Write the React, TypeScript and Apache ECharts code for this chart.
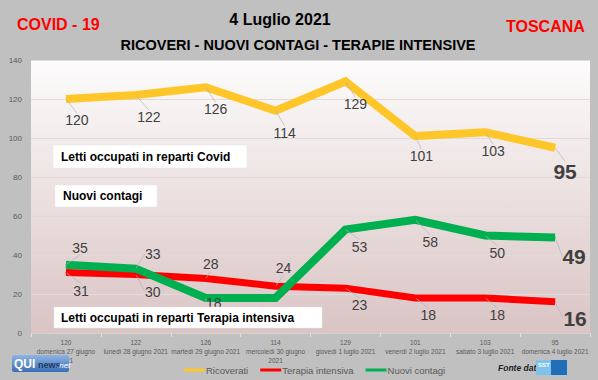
import React, { useEffect, useRef } from "react";
import * as echarts from "echarts";

// ---- data ----
const dayLabels = [
  "domenica 27 giugno\n2021",
  "lunedì 28 giugno 2021",
  "martedì 29 giugno 2021",
  "mercoledì 30 giugno\n2021",
  "giovedì 1 luglio 2021",
  "venerdì 2 luglio 2021",
  "sabato 3 luglio 2021",
  "domenica 4 luglio 2021",
];
const ricoverati = [120, 122, 126, 114, 129, 101, 103, 95];
const terapiaIntensiva = [31, 30, 28, 24, 23, 18, 18, 16];
const nuoviContagi = [35, 33, 18, 18, 53, 58, 50, 49];
const hiddenContagiLabels = [3];
const yMin = 0;
const yMax = 140;
const yStep = 20;

// ---- label placement (styles, not data) ----
const offRic: number[][] = [[11, 21], [13, 22], [10, 22], [9, 22], [10, 23], [6, 20], [8, 19], [10, 24]];
const offTer: number[][] = [[15, 18], [17, 17], [5, -14], [8, -18], [14, 17], [13, 17], [12, 17], [20, 17]];
const offNuo: number[][] = [[14, -17], [17, -15], [8, 5], [0, 0], [14, 17], [15, 22], [12, 17], [19, 19]];

const FONT = "'Liberation Sans', Arial, sans-serif";

export default function App() {
  const ref = useRef<HTMLDivElement>(null);
  useEffect(() => {
    document.body.style.margin = "0";
    if (!ref.current) return;
    const chart = echarts.init(ref.current, null, { renderer: "svg" });
    const last = ricoverati.length - 1;

    const mkData = (vals: number[], hidden: number[] = []) =>
      vals.map((v, i) => {
        if (hidden.includes(i)) return { value: v, label: { show: false } };
        if (i === last)
          return { value: v, label: { fontSize: 21, fontWeight: "bold" } };
        return v;
      });

    const mkSeries = (name: string, vals: number[], color: string, width: number, offs: number[][], hidden: number[] = []) => ({
      type: "line",
      name,
      data: mkData(vals, hidden),
      symbol: "circle",
      symbolSize: 1,
      itemStyle: { color },
      lineStyle: { color, width, join: "miter" },
      label: {
        show: true,
        position: "inside",
        color: "#404040",
        fontSize: 14,
        fontFamily: FONT,
      },
      labelLayout: (p: any) => ({ dx: offs[p.dataIndex][0], dy: offs[p.dataIndex][1] }),
      labelLine: { show: true, lineStyle: { color: "#b3b3b3", width: 0.7 } },
      emphasis: { disabled: true },
    });

    chart.setOption({
      animation: false,
      backgroundColor: "#c0c0c0",
      textStyle: { fontFamily: FONT },
      grid: {
        left: 31,
        right: 8,
        top: 60,
        bottom: 47,
        show: true,
        borderWidth: 0,
        backgroundColor: new echarts.graphic.LinearGradient(0, 0, 0, 1, [
          { offset: 0, color: "#fdfcfc" },
          { offset: 1, color: "#dac4c4" },
        ]),
      },
      legend: {
        left: 179,
        top: 360,
        itemWidth: 21,
        itemHeight: 3,
        itemGap: 12,
        icon: "rect",
        textStyle: { color: "#595959", fontSize: 9.5, fontFamily: FONT, padding: [0, 0, 0, -4] },
        data: ["Ricoverati", "Terapia intensiva", "Nuovi contagi"],
      },
      xAxis: {
        type: "category",
        data: dayLabels.map((d, i) => `${ricoverati[i]}\n${d}`),
        boundaryGap: true,
        axisLine: { show: true, lineStyle: { color: "#d9d0d0" } },
        axisTick: { show: true, length: 4, lineStyle: { color: "#e0e0e0" } },
        axisLabel: {
          interval: 0,
          color: "#595959",
          fontSize: 6.5,
          lineHeight: 9,
          margin: 5,
          fontFamily: FONT,
        },
      },
      yAxis: {
        type: "value",
        min: yMin,
        max: yMax,
        interval: yStep,
        axisLine: { show: false },
        axisTick: { show: false },
        axisLabel: { color: "#595959", fontSize: 8, margin: 9, fontFamily: FONT },
        splitLine: { lineStyle: { color: "#e2dada", width: 1 } },
      },
      series: [
        mkSeries("Ricoverati", ricoverati, "#ffc629", 8, offRic),
        mkSeries("Terapia intensiva", terapiaIntensiva, "#ff0000", 7, offTer),
        mkSeries("Nuovi contagi", nuoviContagi, "#00b050", 8, offNuo, hiddenContagiLabels),
      ],
      graphic: [
        { type: "text", left: 17, top: 16, style: { text: "COVID - 19", fill: "#ff0000", font: `bold 16px ${FONT}` } },
        { type: "text", left: 506, top: 18, style: { text: "TOSCANA", fill: "#ff0000", font: `bold 16px ${FONT}` } },
        { type: "text", x: 280, y: 19, style: { text: "4 Luglio 2021", fill: "#000", font: `bold 16px ${FONT}`, align: "center", verticalAlign: "middle" } },
        { type: "text", x: 298, y: 45, style: { text: "RICOVERI - NUOVI CONTAGI - TERAPIE INTENSIVE", fill: "#000", font: `bold 14.5px ${FONT}`, align: "center", verticalAlign: "middle" } },
        // text boxes
        { type: "rect", shape: { x: 53, y: 145, width: 194, height: 23 }, style: { fill: "#ffffff", stroke: "#e6e6e6", lineWidth: 0.5 }, z: 10 },
        { type: "text", x: 61, y: 157, style: { text: "Letti occupati in reparti Covid", fill: "#000", font: `bold 12px ${FONT}`, verticalAlign: "middle" }, z: 11 },
        { type: "rect", shape: { x: 55, y: 185, width: 102, height: 22 }, style: { fill: "#ffffff", stroke: "#e6e6e6", lineWidth: 0.5 }, z: 10 },
        { type: "text", x: 63, y: 196, style: { text: "Nuovi contagi", fill: "#000", font: `bold 12px ${FONT}`, verticalAlign: "middle" }, z: 11 },
        { type: "rect", shape: { x: 54, y: 307, width: 268, height: 21 }, style: { fill: "#ffffff", stroke: "#e6e6e6", lineWidth: 0.5 }, z: 10 },
        { type: "text", x: 61, y: 318, style: { text: "Letti occupati in reparti Terapia intensiva", fill: "#000", font: `bold 12px ${FONT}`, verticalAlign: "middle" }, z: 11 },
        // QUInews logo
        {
          type: "rect",
          shape: { x: 12, y: 355, width: 57, height: 17, r: 2 },
          style: {
            fill: new echarts.graphic.LinearGradient(0, 0, 0, 1, [
              { offset: 0, color: "#8fb4e3" },
              { offset: 1, color: "#3a6eb5" },
            ]),
          },
          z: 10,
        },
        { type: "text", x: 14, y: 364, style: { text: "QUI", fill: "#ffffff", font: `bold 12px ${FONT}`, verticalAlign: "middle" }, z: 11 },
        { type: "text", x: 38, y: 365, style: { text: "news", fill: "#1f3864", font: `bold 9px ${FONT}`, verticalAlign: "middle" }, z: 11 },
        { type: "text", x: 57, y: 365, style: { text: ".net", fill: "#ffffff", font: `italic 8px ${FONT}`, verticalAlign: "middle" }, z: 11 },
        // Fonte dati + SST logo
        { type: "text", x: 498, y: 368, style: { text: "Fonte dati", fill: "#222222", font: `italic bold 8.5px ${FONT}`, verticalAlign: "middle" } },
        { type: "rect", shape: { x: 536, y: 360, width: 15, height: 15 }, style: { fill: "#7fc3ea" } },
        { type: "text", x: 538, y: 365, style: { text: "SST", fill: "#ffffff", font: `bold 6px ${FONT}`, verticalAlign: "middle" } },
        { type: "rect", shape: { x: 551, y: 360, width: 16, height: 15 }, style: { fill: "#1f6fb8" } },
      ],
    });
    return () => chart.dispose();
  }, []);
  return <div ref={ref} style={{ width: 598, height: 380 }} />;
}
